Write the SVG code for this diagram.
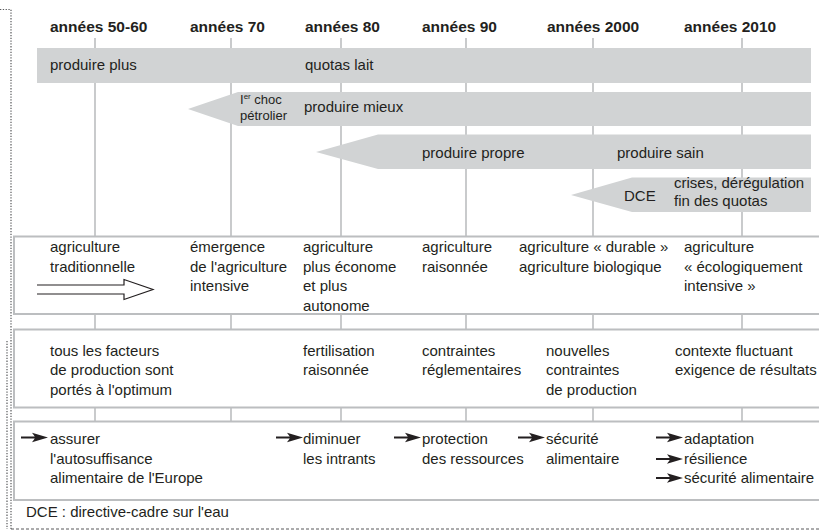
<svg xmlns="http://www.w3.org/2000/svg" width="819" height="531" viewBox="0 0 819 531">
<style>
text{font-family:"Liberation Sans",Arial,sans-serif;fill:#231f20;font-size:15px}
.h{font-weight:bold;font-size:15.5px}
.s{font-size:13px}
.bar{fill:#d1d3d4}
.vl{stroke:#bcbec0;stroke-width:1.6;fill:none}
.box{stroke:#bcbec0;stroke-width:2;fill:none}
.dot{stroke:#58595b;stroke-width:1.2;stroke-dasharray:1.3 1.5;fill:none}
.dash{stroke:#58595b;stroke-width:1;stroke-dasharray:3 2;fill:none}
</style>
<defs>
<path id="arr" d="M0,-1.1 H16 V1.1 H0 Z M11,-4.8 L27,0 L11,4.8 L14.5,0 Z" fill="#231f20"/>
</defs>
<rect width="819" height="531" fill="#fff"/>

<g id="frame">
<path class="dot" d="M0,9.5 H11 V529"/>
<path class="dot" d="M7,341 V529"/>
<path class="dash" d="M11,529 H819"/>
</g>

<g id="timeline-lines">
<path class="vl" d="M95,38 V236 M95,314 V330 M95,407 V422"/>
<path class="vl" d="M231,38 V236 M231,314 V330 M231,407 V422"/>
<path class="vl" d="M341,38 V236 M341,314 V330 M341,407 V422"/>
<path class="vl" d="M466,38 V236 M466,314 V330 M466,407 V422"/>
<path class="vl" d="M593,38 V236 M593,314 V330 M593,407 V422"/>
<path class="vl" d="M742,38 V236 M742,314 V330 M742,407 V422"/>
</g>

<g id="headers">
<text class="h" x="50" y="32">années 50-60</text>
<text class="h" x="190" y="32">années 70</text>
<text class="h" x="305" y="32">années 80</text>
<text class="h" x="422" y="32">années 90</text>
<text class="h" x="547" y="32">années 2000</text>
<text class="h" x="684" y="32">années 2010</text>
</g>

<g id="bar-produire-plus">
<rect class="bar" x="37" y="48" width="774" height="35"/>
<text x="50" y="70">produire plus</text>
<text x="305" y="70">quotas lait</text>
</g>

<g id="bar-produire-mieux">
<polygon class="bar" points="188,109 238,92 811,92 811,126 238,126"/>
<text class="s" x="240" y="104">I<tspan font-size="8" dy="-5">er</tspan><tspan dy="5"> choc</tspan></text>
<text class="s" x="240" y="119.5">pétrolier</text>
<text x="304" y="112">produire mieux</text>
</g>

<g id="bar-produire-propre">
<polygon class="bar" points="316,152 378,134.5 811,134.5 811,169 378,169"/>
<text x="422" y="157.5">produire propre</text>
<text x="617" y="157.5">produire sain</text>
</g>

<g id="bar-dce">
<polygon class="bar" points="571,195 632,177.5 811,177.5 811,212 632,212"/>
<text x="624" y="201" font-size="16">DCE</text>
<text x="674" y="188" font-size="12">crises, dérégulation</text>
<text x="674" y="205.5" font-size="12">fin des quotas</text>
</g>

<g id="box-agriculture">
<path class="box" d="M820,236.5 H14 V314 H820"/>
<text x="50" y="252">agriculture</text>
<text x="50" y="271.5">traditionnelle</text>
<text x="190" y="252">émergence</text>
<text x="190" y="271.5">de l'agriculture</text>
<text x="190" y="291">intensive</text>
<text x="303" y="252">agriculture</text>
<text x="303" y="271.5">plus économe</text>
<text x="303" y="291">et plus</text>
<text x="303" y="310.5">autonome</text>
<text x="422" y="252">agriculture</text>
<text x="422" y="271.5">raisonnée</text>
<text x="519" y="252">agriculture « durable »</text>
<text x="519" y="271.5">agriculture biologique</text>
<text x="684" y="252">agriculture</text>
<text x="684" y="271.5">« écologiquement</text>
<text x="684" y="291">intensive »</text>
</g>

<g id="box-contraintes">
<path class="box" d="M820,329.5 H14 V407.5 H820"/>
<text x="50" y="355.5">tous les facteurs</text>
<text x="50" y="375">de production sont</text>
<text x="50" y="394.5">portés à l'optimum</text>
<text x="303" y="355.5">fertilisation</text>
<text x="303" y="375">raisonnée</text>
<text x="422" y="355.5">contraintes</text>
<text x="422" y="375">réglementaires</text>
<text x="546" y="355.5">nouvelles</text>
<text x="546" y="375">contraintes</text>
<text x="546" y="394.5">de production</text>
<text x="675" y="355.5">contexte fluctuant</text>
<text x="675" y="375">exigence de résultats</text>
</g>

<g id="box-objectifs">
<path class="box" d="M820,421.5 H14 V500 H820"/>
<text x="50" y="444">assurer</text>
<text x="50" y="463.5">l'autosuffisance</text>
<text x="50" y="483">alimentaire de l'Europe</text>
<text x="303" y="444">diminuer</text>
<text x="303" y="463.5">les intrants</text>
<text x="422" y="444">protection</text>
<text x="422" y="463.5">des ressources</text>
<text x="546" y="444">sécurité</text>
<text x="546" y="463.5">alimentaire</text>
<text x="684" y="444">adaptation</text>
<text x="684" y="463.5">résilience</text>
<text x="684" y="483">sécurité alimentaire</text>
</g>

<g id="connectors">
<path d="M37,285 H124 V279.5 L153,289.5 L124,299.5 V294 H37" fill="#fff" stroke="#231f20" stroke-width="1.2"/>
<use href="#arr" x="21" y="437.5"/>
<use href="#arr" x="276" y="437.5"/>
<use href="#arr" x="394" y="437.5"/>
<use href="#arr" x="518" y="437.5"/>
<use href="#arr" x="656" y="437.5"/>
<use href="#arr" x="656" y="459"/>
<use href="#arr" x="656" y="478"/>
</g>

<g id="legend">
<text x="26" y="517" font-size="13">DCE : directive-cadre sur l'eau</text>
</g>
</svg>
